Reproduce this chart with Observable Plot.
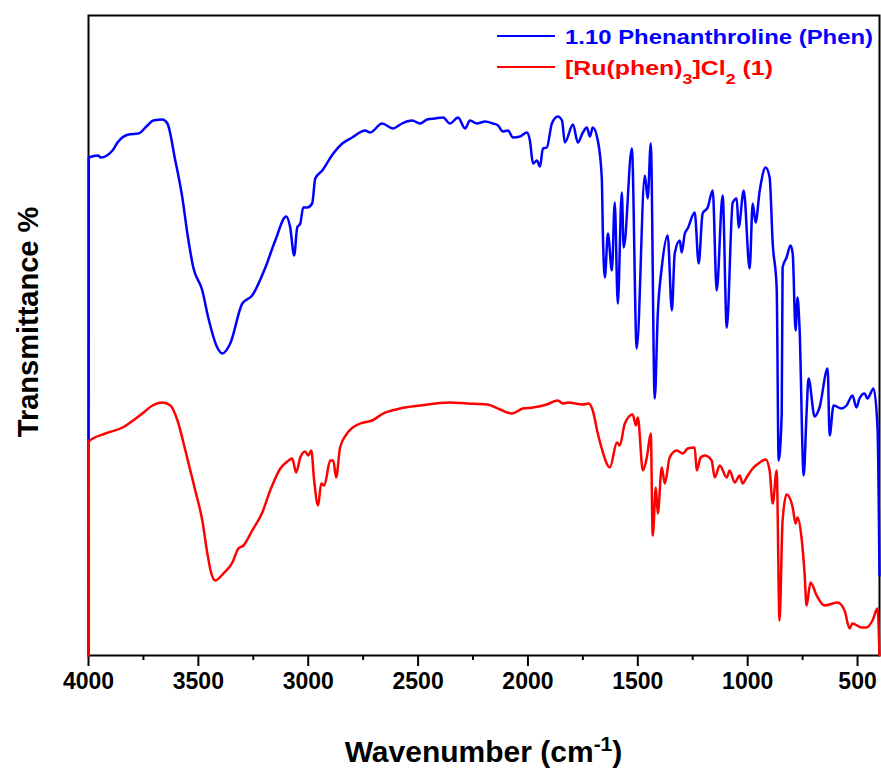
<!DOCTYPE html>
<html><head><meta charset="utf-8">
<script src="https://cdn.jsdelivr.net/npm/d3@7"></script>
<script src="https://cdn.jsdelivr.net/npm/@observablehq/plot@0.6"></script>
<style>body{margin:0;background:#fff} svg{display:block}</style>
</head><body><div id="chart"></div>
<script>
// Series names
const seriesNames = ["1.10 Phenanthroline (Phen)", "[Ru(phen)3]Cl2 (1)"];
const seriesColors = ["#0000ff", "#ff0000"];

// 1.10 Phenanthroline (Phen): wavenumber (cm-1) and transmittance (arbitrary units)
const phenWavenumber = [4000,3999,3955,3945,3891,3868,3818,3773,3732,3705,3664,3641,3605,3573,3550,3523,3482,3455,3414,3391,3355,3300,3255,3195,3150,3100,3082,3064,3050,3036,3023,3005,2982,2968,2936,2886,2845,2800,2741,2718,2664,2614,2595,2573,2527,2491,2459,2423,2386,2355,2318,2286,2264,2232,2195,2159,2136,2114,2091,2068,2036,2005,1991,1977,1959,1945,1932,1914,1891,1864,1845,1832,1795,1773,1750,1732,1718,1705,1682,1664,1659,1650,1636,1618,1605,1591,1573,1564,1527,1505,1468,1455,1441,1423,1409,1391,1364,1345,1332,1309,1300,1286,1273,1241,1223,1205,1182,1159,1141,1114,1095,1068,1050,1041,1018,991,977,964,945,918,900,886,868,859,845,841,823,805,795,782,773,764,745,732,723,695,673,636,627,609,573,550,523,505,491,468,455,427,409,400];
const phenT = [0,498,500,498,505,513,521,522,530,535,536,532,495,458,422,388,365,338,308,302,312,352,360,388,415,439,428,400,428,432,448,448,452,477,485,502,512,518,525,523,532,527,529,532,535,532,536,537,538,532,538,527,535,532,534,532,530,524,525,518,519,523,515,492,495,489,507,508,532,539,535,513,531,513,523,528,519,528,515,478,422,378,422,385,453,352,463,408,507,307,480,457,512,257,342,388,420,345,402,415,403,422,427,443,392,442,448,465,365,460,328,453,457,428,465,387,452,433,465,488,478,412,368,195,242,388,398,410,402,325,358,328,180,242,277,239,248,287,220,250,247,250,260,248,257,262,257,267,228,80];

// [Ru(phen)3]Cl2 (1)
const ruWavenumber = [4000,3999,3923,3845,3755,3709,3664,3627,3595,3559,3514,3482,3459,3441,3423,3386,3345,3318,3295,3255,3209,3173,3127,3095,3073,3055,3036,3014,3000,2986,2973,2955,2941,2927,2900,2886,2873,2855,2823,2764,2709,2659,2582,2491,2355,2277,2186,2127,2073,2023,1977,1914,1864,1841,1818,1750,1723,1705,1682,1664,1627,1595,1582,1559,1523,1509,1500,1477,1459,1441,1432,1418,1409,1391,1377,1355,1323,1295,1273,1241,1232,1214,1195,1164,1150,1127,1095,1082,1059,1036,1023,1005,977,945,918,900,886,868,855,841,823,795,782,773,755,741,732,714,686,650,591,559,536,523,482,459,432,409,400];
const ruT = [0,214,222,228,242,250,253,250,235,205,165,135,102,82,75,82,93,107,110,125,143,165,187,194,197,183,198,204,200,205,175,150,172,170,195,195,178,208,222,232,235,242,247,250,253,252,251,246,242,247,248,251,255,252,253,251,252,245,222,207,188,213,210,232,241,230,238,185,198,222,120,168,142,188,172,198,205,202,207,208,185,198,200,195,178,190,178,185,173,180,172,178,187,193,196,185,152,185,35,135,161,148,132,138,118,82,50,73,60,50,53,45,27,32,28,28,35,47,0];

// Axis ticks
const majorTicks = [4000,3500,3000,2500,2000,1500,1000,500];
const minorTicks = [3750,3250,2750,2250,1750,1250,750];
const xTitle = ["Wavenumber (cm", "-1", ")"];
const yTitle = "Transmittance %";

const rows = (w, t, s) => w.map((d, i) => ({w: d, t: t[i], s}));
const data = [...rows(phenWavenumber, phenT, seriesNames[0]), ...rows(ruWavenumber, ruT, seriesNames[1])];

const FONT = "'Liberation Sans', Arial, Helvetica, sans-serif";

const plot = Plot.plot({
  width: 881, height: 769,
  marginTop: 15, marginBottom: 114, marginLeft: 88, marginRight: 2,
  x: {domain: [4000, 400]},
  y: {domain: [0, 640], axis: null},
  color: {domain: seriesNames, range: seriesColors},
  style: {fontFamily: FONT, fontWeight: "bold", fontSize: "23px", color: "black", background: "white"},
  marks: [
    Plot.axisX({ticks: majorTicks, tickFormat: "d", tickSize: 11, tickPadding: 6, strokeWidth: 2, label: null, fontSize: 23, fontWeight: "bold"}),
    Plot.axisX({ticks: minorTicks, tickFormat: () => "", tickSize: 5, strokeWidth: 2, label: null}),
    Plot.frame({stroke: "black", strokeWidth: 2}),
    Plot.line(data, {x: "w", y: "t", z: "s", stroke: "s", strokeWidth: 2.5, curve: "monotone-x"})
  ]
});
document.getElementById("chart").appendChild(plot);

const svg = d3.select(plot);
const xs = plot.scale("x");
const xMid = (xs.range[0] + xs.range[1]) / 2;

// X axis title
const xt = svg.append("text").attr("x", xMid).attr("y", 762).attr("text-anchor", "middle")
  .style("font-family", FONT).style("font-weight", "bold").style("font-size", "30px").attr("fill", "black");
xt.append("tspan").text(xTitle[0]);
xt.append("tspan").attr("baseline-shift", "super").style("font-size", "21px").text(xTitle[1]);
xt.append("tspan").text(xTitle[2]);

// Y axis title
svg.append("text").attr("transform", "translate(28,322) rotate(-90)").attr("text-anchor", "middle")
  .attr("dy", "0.35em").style("font-family", FONT).style("font-weight", "bold").style("font-size", "29px")
  .attr("fill", "black").text(yTitle);

// Legend
const lg = svg.append("g").style("font-family", FONT).style("font-weight", "bold").style("font-size", "21px");
const legendY = [36, 67];
const legendLen = [308, 208];
seriesNames.forEach((name, i) => {
  lg.append("line").attr("x1", 497).attr("x2", 555).attr("y1", legendY[i]).attr("y2", legendY[i])
    .attr("stroke", seriesColors[i]).attr("stroke-width", 2);
  const t = lg.append("text").attr("x", 565).attr("y", legendY[i] + 7.5).attr("text-anchor", "start")
    .attr("fill", seriesColors[i]).attr("textLength", legendLen[i]).attr("lengthAdjust", "spacingAndGlyphs");
  if (i === 0) t.text(name);
  else {
    t.append("tspan").text("[Ru(phen)");
    t.append("tspan").attr("baseline-shift", "sub").style("font-size", "15px").text("3");
    t.append("tspan").text("]Cl");
    t.append("tspan").attr("baseline-shift", "sub").style("font-size", "15px").text("2");
    t.append("tspan").text(" (1)");
  }
});
</script>
</body></html>
